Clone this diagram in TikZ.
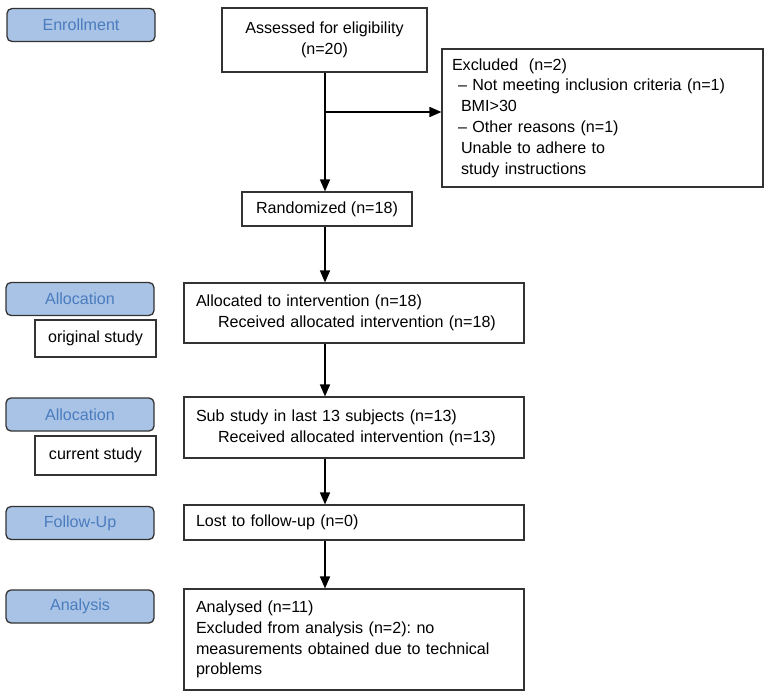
\documentclass[tikz,border=0pt]{standalone}
\usepackage{fontspec}
\setmainfont{Liberation Sans}
\usetikzlibrary{arrows.meta}
\frenchspacing

\definecolor{stagefill}{HTML}{A9C3E6}
\definecolor{stagetext}{HTML}{4A7CBE}
\definecolor{edgegray}{HTML}{333333}

\tikzset{
  stagebox/.style={draw=edgegray, line width=1.3pt, rounded corners=5pt, fill=stagefill,
    text=stagetext, minimum width=148pt, minimum height=33pt, inner sep=0pt},
  plainbox/.style={draw=edgegray, line width=1.1pt, inner sep=0pt},
  flowbox/.style={plainbox, align=left, inner xsep=12pt, text width=316pt,
    minimum width=340pt},
  flowarrow/.style={line width=1.5pt, -{Triangle[length=12pt,width=10pt]}}
}

\begin{document}
\begin{tikzpicture}[x=1pt, y=-1pt, font=\fontsize{16.1}{20.8}\selectfont]
\useasboundingbox (0,0) rectangle (770,699);

% Stage labels on the left
\node[stagebox] (enroll) at (81,25) {Enrollment};
\node[stagebox] (alloc1) at (80,299) {Allocation};
\node[stagebox] (alloc2) at (80,414.5) {Allocation};
\node[stagebox] (follow) at (80,523) {Follow-Up};
\node[stagebox] (analysis) at (80,606.5) {Analysis};

% Study notes under the allocation labels
\node[plainbox, minimum width=121pt, minimum height=37pt] (orig) at (95.5,338.5) {original study};
\node[plainbox, minimum width=121pt, minimum height=39pt] (curr) at (95.5,455.5) {current study};

% Eligibility and exclusions
\node[plainbox, align=center, minimum width=205pt, minimum height=64pt] (assess) at (324.5,40)
  {Assessed for eligibility\\(n=20)};
\node[plainbox, align=left, inner xsep=10pt, text width=301pt, minimum width=321pt,
  minimum height=138pt] (excl) at (602.5,118)
  {Excluded\ \ (n=2)\\
   \hspace{6pt}-- Not meeting inclusion criteria (n=1)\\
   \hspace{9pt}BMI>30\\
   \hspace{6pt}-- Other reasons (n=1)\\
   \hspace{9pt}Unable to adhere to\\
   \hspace{9pt}study instructions};

% Randomisation
\node[plainbox, minimum width=170pt, minimum height=34pt] (rand) at (327,209) {Randomized (n=18)};

% Main flow boxes
\node[flowbox, minimum height=60pt] (allocd) at (354,313)
  {Allocated to intervention (n=18)\\
   \hspace{22pt}Received allocated intervention (n=18)};
\node[flowbox, minimum height=61pt] (sub) at (354,427.5)
  {Sub study in last 13 subjects (n=13)\\
   \hspace{22pt}Received allocated intervention (n=13)};
\node[flowbox, minimum height=35pt] (lost) at (354,522.5) {Lost to follow-up (n=0)};
\node[flowbox, minimum height=101pt] (analysed) at (354,639.5)
  {Analysed (n=11)\\
   Excluded from analysis (n=2): no\\
   measurements obtained due to technical\\
   problems};

% Connectors
\coordinate (split) at (325,112);
\draw[flowarrow] (assess.south -| split) -- (rand.north -| split);
\draw[flowarrow] (split) -- (split -| excl.west);
\draw[flowarrow] (rand.south -| split) -- (allocd.north -| split);
\draw[flowarrow] (allocd.south -| split) -- (sub.north -| split);
\draw[flowarrow] (sub.south -| split) -- (lost.north -| split);
\draw[flowarrow] (lost.south -| split) -- (analysed.north -| split);
\end{tikzpicture}
\end{document}
